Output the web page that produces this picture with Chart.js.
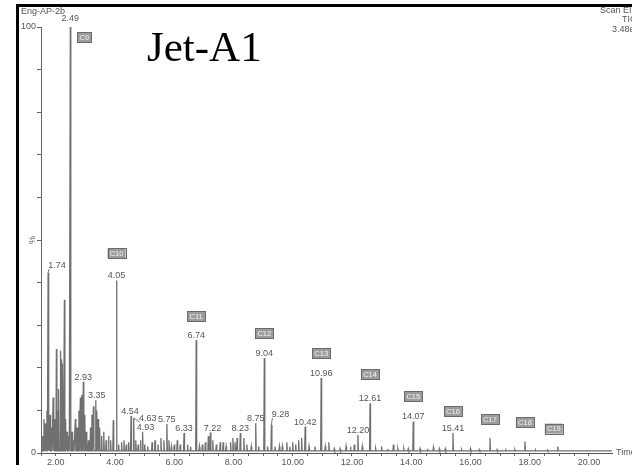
<!DOCTYPE html>
<html>
<head>
<meta charset="utf-8">
<script src="https://cdn.jsdelivr.net/npm/chart.js@4"></script>
<style>
  html, body { margin: 0; padding: 0; background: #fff; }
  #wrap { width: 632px; height: 465px; position: relative; }
</style>
</head>
<body>
<div id="wrap"><canvas id="c" width="632" height="465"></canvas></div>
<script>
// Retention times (min) of resolved peaks and their relative abundance (%)
const peakTimes = [
  1.55, 1.60, 1.65, 1.70, 1.74, 1.78, 1.81, 1.86, 1.91, 1.95,
  2.02, 2.06, 2.10, 2.16, 2.20, 2.23, 2.26, 2.29, 2.33, 2.38,
  2.44, 2.49, 2.55, 2.60, 2.66, 2.72, 2.78, 2.83, 2.88, 2.93,
  2.98, 3.03, 3.10, 3.17, 3.22, 3.27, 3.35, 3.39, 3.43, 3.48,
  3.55, 3.62, 3.70, 3.78, 3.85, 3.94, 4.05, 4.12, 4.22, 4.30,
  4.38, 4.46, 4.54, 4.63, 4.70, 4.78, 4.86, 4.93, 5.00, 5.10,
  5.25, 5.35, 5.45, 5.55, 5.65, 5.75, 5.82, 5.90, 6.00, 6.10,
  6.20, 6.33, 6.45, 6.55, 6.74, 6.85, 6.95, 7.05, 7.15, 7.22,
  7.30, 7.42, 7.55, 7.65, 7.75, 7.90, 7.98, 8.05, 8.12, 8.23,
  8.35, 8.45, 8.60, 8.75, 8.85, 9.04, 9.15, 9.28, 9.40, 9.55,
  9.65, 9.80, 9.90, 10.00, 10.10, 10.20, 10.30, 10.42, 10.55, 10.75,
  10.96, 11.10, 11.22, 11.40, 11.60, 11.80, 11.95, 12.08, 12.20, 12.35,
  12.61, 12.80, 13.00, 13.20, 13.40, 13.55, 13.75, 13.90, 14.07, 14.30,
  14.55, 14.75, 14.95, 15.15, 15.41, 15.70, 16.00, 16.30, 16.66, 16.90,
  17.20, 17.50, 17.84, 18.20, 18.60, 18.95, 19.50, 20.00
];
const peakHeights = [
  4, 8, 7, 10, 42.3, 9, 9, 6, 13, 8,
  24.4, 10, 15, 24, 22, 21, 12, 36, 8, 5,
  4, 100, 5, 3, 8, 6, 10, 13, 13.6, 16.7,
  9, 5, 3, 6, 9, 11, 12.4, 10, 8, 6,
  4, 5, 3, 4, 3, 7.7, 40.5, 2, 2.5, 3,
  2, 2.5, 8.7, 8.2, 3, 2, 3, 5, 2, 1.5,
  2.5, 3, 2, 3.5, 3, 6.8, 3, 1.5, 2, 3,
  2, 4.7, 2, 1.5, 26.5, 1.5, 2, 2.5, 4, 4.8,
  3, 2, 2.5, 2.5, 1.5, 2.5, 3.5, 2.5, 3.5, 4.7,
  3.5, 2, 1.5, 7, 1.5, 22.3, 1.5, 6.6, 1.5, 1.5,
  1.5, 2.5, 1.5, 2.5, 2, 3, 3.5, 6.2, 1.5, 1.5,
  17.6, 1.5, 2.5, 1, 1, 1.5, 1.5, 2, 4.2, 1.5,
  11.7, 1, 1.5, 1, 2, 1, 1, 1, 7.4, 1,
  1, 1.3, 1, 1, 4.7, 0.8, 1, 0.8, 3.5, 0.8,
  0.7, 0.8, 2.7, 0.7, 0.7, 1.5, 0.5, 0.5
];
const baselineLevel = 0.5;

// Peaks annotated with their retention time
const labeledTimes = [1.74, 2.49, 2.93, 3.35, 4.05, 4.54, 4.63, 4.93, 5.75, 6.33, 6.74,
                      7.22, 8.23, 8.75, 9.04, 9.28, 10.42, 10.96, 12.20, 12.61, 14.07, 15.41];

// n-alkane assignments
const alkaneNames = ['C9', 'C10', 'C11', 'C12', 'C13', 'C14', 'C15', 'C16', 'C17', 'C18', 'C19'];
const alkaneTimes = [2.49, 4.05, 6.74, 9.04, 10.96, 12.61, 14.07, 15.41, 16.66, 17.84, 18.95];

// Axis ticks
const xMin = 1.5, xMax = 20.78, xStep = 0.5, xLabelEvery = 2;
const yMin = 0, yMax = 100, yStep = 10;
const yTickLabels = { 0: '0', 100: '100' };

function heightAt(t) {
  const i = peakTimes.findIndex(v => Math.abs(v - t) < 1e-6);
  return i >= 0 ? peakHeights[i] : baselineLevel;
}

// Trace: each peak as a narrow spike rising from the baseline
const halfWidth = 0.016;
const trace = [{ x: xMin, y: baselineLevel }];
peakTimes.forEach((t, i) => {
  trace.push({ x: t - halfWidth, y: baselineLevel });
  trace.push({ x: t, y: peakHeights[i] });
  trace.push({ x: t + halfWidth, y: baselineLevel });
});
trace.push({ x: xMax, y: baselineLevel });

// Label placement tweaks (pixels): [dx, dy, leader line]
const labelNudge = {
  '1.74': [9, -3, true],
  '2.49': [0, -4, false],
  '3.35': [1, 0, false],
  '4.54': [-1, 0, false],
  '4.63': [14, 5, true],
  '4.93': [3, 0, false],
  '7.22': [2, 0, false],
  '9.28': [9, -6, true]
};
// Box offsets above peak apex (pixels)
const boxOffset = {
  'C9': [14, null], 'C10': [0, -27], 'C11': [0, -24], 'C12': [0, -25], 'C13': [0, -25],
  'C14': [0, -29], 'C15': [0, -25], 'C16': [0, -22], 'C17': [0, -19], 'C18': [0, -19], 'C19': [-4, -18]
};

const SANS = '"Liberation Sans", Arial, sans-serif';
const TEXT = '#555';

const decorations = {
  id: 'decorations',
  afterDraw(chart) {
    const { ctx, scales: { x, y }, chartArea } = chart;
    ctx.save();

    // peak retention-time labels
    ctx.font = '9px ' + SANS;
    ctx.fillStyle = TEXT;
    ctx.textAlign = 'center';
    ctx.textBaseline = 'alphabetic';
    labeledTimes.forEach(t => {
      const key = t.toFixed(2);
      const px = x.getPixelForValue(t);
      const py = y.getPixelForValue(heightAt(t));
      const [dx, dy, leader] = labelNudge[key] || [0, 0, false];
      const lx = px + dx, ly = py - 2 + dy;
      ctx.fillText(key, lx, ly);
      if (leader) {
        ctx.strokeStyle = '#777';
        ctx.lineWidth = 1;
        ctx.beginPath();
        ctx.moveTo(px, py);
        ctx.lineTo(lx - 8, ly + 1);
        ctx.stroke();
      }
    });

    // alkane boxes
    ctx.font = '7.5px ' + SANS;
    alkaneNames.forEach((name, i) => {
      const t = alkaneTimes[i];
      const px = x.getPixelForValue(t);
      const py = y.getPixelForValue(heightAt(t));
      const [dx, dy] = boxOffset[name];
      const cx = px + dx;
      const cy = dy === null ? chartArea.top + 10 : py + dy;
      const w = Math.ceil(ctx.measureText(name).width) + 4;
      const h = 10;
      ctx.fillStyle = '#9c9c9c';
      ctx.fillRect(cx - w / 2, cy - h / 2, w, h);
      ctx.strokeStyle = '#6a6a6a';
      ctx.lineWidth = 1;
      ctx.strokeRect(Math.round(cx - w / 2) + 0.5, Math.round(cy - h / 2) + 0.5, w, h);
      ctx.fillStyle = '#f4f4f4';
      ctx.textAlign = 'center';
      ctx.textBaseline = 'middle';
      ctx.fillText(name, cx, cy + 0.5);
    });

    // header texts
    ctx.font = '9px ' + SANS;
    ctx.fillStyle = TEXT;
    ctx.textAlign = 'left';
    ctx.textBaseline = 'middle';
    ctx.fillText('Eng-AP-2b', 21, 12);
    ctx.fillText('Scan EI+', 600, 11);
    ctx.fillText('TIC', 622, 20);
    ctx.fillText('3.48e6', 612, 30);
    ctx.fillText('Time', 616, 453);

    // rotated % on the intensity axis
    ctx.save();
    ctx.translate(33, y.getPixelForValue(50));
    ctx.rotate(-Math.PI / 2);
    ctx.textAlign = 'center';
    ctx.fillText('%', 0, 0);
    ctx.restore();

    // sample name
    ctx.font = '43px "Liberation Serif", "DejaVu Serif", serif';
    ctx.fillStyle = '#000';
    ctx.textAlign = 'left';
    ctx.textBaseline = 'alphabetic';
    ctx.fillText('Jet-A1', 147, 61);

    // frame
    ctx.fillStyle = '#000';
    ctx.fillRect(16, 4, 3, 461);
    ctx.fillRect(16, 4, 616, 3);
    ctx.restore();
  }
};

new Chart(document.getElementById('c'), {
  type: 'line',
  data: {
    datasets: [{
      data: trace,
      borderColor: '#707070',
      borderWidth: 1.3,
      pointRadius: 0,
      tension: 0,
      fill: false
    }]
  },
  options: {
    responsive: false,
    devicePixelRatio: 1,
    animation: false,
    parsing: true,
    layout: { padding: { left: 0, top: 27, right: 20, bottom: 0 } },
    plugins: { legend: { display: false }, tooltip: { enabled: false } },
    scales: {
      x: {
        type: 'linear',
        min: xMin, max: xMax,
        afterBuildTicks(scale) {
          scale.ticks = scale.ticks.filter(tk => Math.abs(tk.value / xStep - Math.round(tk.value / xStep)) < 1e-6);
        },
        afterFit(scale) { scale.height = 12; },
        ticks: {
          stepSize: xStep,
          autoSkip: false,
          maxRotation: 0,
          padding: 1,
          color: TEXT,
          font: { family: SANS, size: 9 },
          callback(v) {
            const r = v / xLabelEvery;
            return Math.abs(r - Math.round(r)) < 1e-6 ? Number(v).toFixed(2) : '';
          }
        },
        grid: { drawOnChartArea: false, drawTicks: true, tickLength: 3, color: '#666' },
        border: { color: '#555', width: 1 }
      },
      y: {
        min: yMin, max: yMax,
        afterFit(scale) { scale.width = 41; },
        ticks: {
          stepSize: yStep,
          autoSkip: false,
          padding: 1,
          color: TEXT,
          font: { family: SANS, size: 9 },
          callback(v) { return yTickLabels[v] !== undefined ? yTickLabels[v] : ''; }
        },
        grid: { drawOnChartArea: false, drawTicks: true, tickLength: 4, color: '#666' },
        border: { color: '#666', width: 1 }
      }
    }
  },
  plugins: [decorations]
});
</script>
</body>
</html>
